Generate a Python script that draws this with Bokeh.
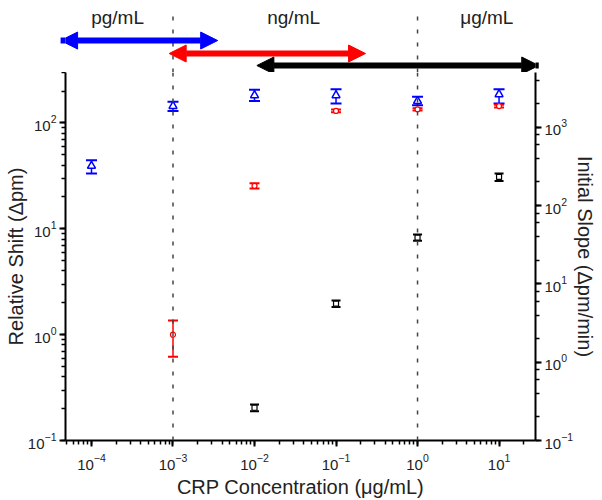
from bokeh.plotting import figure
from bokeh.layouts import column
from bokeh.models import (LogAxis, Range1d, LogScale, Whisker, TeeHead, Span,
                          NormalHead, Arrow, Label, ColumnDataSource, LogTicker)
from bokeh.embed import file_html
from bokeh.resources import INLINE

# ---- data ----
conc_blue = [1e-4, 1e-3, 1e-2, 1e-1, 1e0, 1e1]
shift_blue = [39.3, 144.5, 182.5, 182.5, 161.0, 186.6]
shift_blue_lo = [33.3, 130.0, 161.0, 153.0, 147.0, 153.0]
shift_blue_hi = [44.4, 159.0, 206.0, 208.0, 177.0, 208.0]

conc_red = [1e-3, 1e-2, 1e-1, 1e0, 1e1]
shift_red = [1.0, 25.5, 130.0, 134.6, 144.5]
shift_red_lo = [0.62, 24.0, 126.0, 131.0, 140.0]
shift_red_hi = [1.36, 27.0, 134.0, 138.0, 149.0]

conc_black = [1e-2, 1e-1, 1e0, 1e1]
slope_black = [0.262, 5.58, 38.9, 231.9]
slope_black_lo = [0.237, 5.05, 35.6, 206.0]
slope_black_hi = [0.288, 6.15, 42.6, 256.0]

unit_edges = [1e-3, 1.0]
unit_names = ["pg/mL", "ng/mL", "μg/mL"]
unit_centers = [10**-3.68, 10**-1.52, 10**0.85]

range_colors = ["#0000FF", "#FF0000", "#000000"]
range_lo = [10**-4.379, 10**-3.047, 10**-1.971]
range_hi = [10**-2.452, 10**-0.638, 10**1.487]

x_lo, x_hi = 4.8e-5, 28.0
left_lo, left_hi = 0.1, 300.0
right_lo, right_hi = 0.1, 5000.0

FONT = "Liberation Sans"
W = 602
TOP_H = 72
BOT_H = 500 - TOP_H

# ---------- main chart ----------
p = figure(width=W, height=BOT_H, x_axis_type="log", y_axis_type="log",
           x_range=Range1d(x_lo, x_hi), y_range=Range1d(left_lo, left_hi),
           output_backend="svg", toolbar_location=None,
           min_border_left=65, min_border_right=67, min_border_top=0,
           min_border_bottom=60)
p.extra_y_ranges = {"slope": Range1d(right_lo, right_hi)}
p.extra_y_scales = {"slope": LogScale()}
p.grid.visible = False
p.outline_line_color = None

right = LogAxis(y_range_name="slope", ticker=LogTicker())
p.add_layout(right, "right")

p.xaxis.axis_label = "CRP Concentration (μg/mL)"
p.yaxis[0].axis_label = "Relative Shift (Δpm)"
right.axis_label = "Initial Slope (Δpm/min)"

for ax in [p.xaxis[0], p.yaxis[0], right]:
    ax.axis_line_width = 2
    ax.axis_line_color = "black"
    ax.major_tick_line_width = 2
    ax.minor_tick_line_width = 1.5
    ax.major_tick_out = 6
    ax.major_tick_in = 0
    ax.minor_tick_out = 4
    ax.minor_tick_in = 0
    ax.major_label_text_font = FONT
    ax.major_label_text_font_size = "15px"
    ax.major_label_text_color = "#222222"
    ax.axis_label_text_font = FONT
    ax.axis_label_text_font_size = "20px"
    ax.axis_label_text_font_style = "normal"
    ax.axis_label_text_color = "#222222"

p.xaxis[0].major_label_standoff = 7
p.xaxis[0].axis_label_standoff = 3
p.yaxis[0].major_label_standoff = 3
p.yaxis[0].axis_label_standoff = -2
right.major_label_standoff = 3
right.axis_label_standoff = -2

for xe in unit_edges:
    p.add_layout(Span(location=xe, dimension="height", line_color="#444444",
                      line_width=1.5, line_dash="4 9"))

sb = ColumnDataSource(dict(x=conc_blue, y=shift_blue, lo=shift_blue_lo, hi=shift_blue_hi))
p.add_layout(Whisker(source=sb, base="x", lower="lo", upper="hi", dimension="height",
                     line_color="#0000FF", line_width=1.5,
                     upper_head=TeeHead(size=11, line_color="#0000FF", line_width=2),
                     lower_head=TeeHead(size=11, line_color="#0000FF", line_width=2)))
p.scatter("x", "y", source=sb, marker="triangle", size=8, fill_color="white",
          line_color="#0000FF", line_width=1.5)

sr = ColumnDataSource(dict(x=conc_red, y=shift_red, lo=shift_red_lo, hi=shift_red_hi))
p.add_layout(Whisker(source=sr, base="x", lower="lo", upper="hi", dimension="height",
                     line_color="#FF0000", line_width=1.5,
                     upper_head=TeeHead(size=10, line_color="#FF0000", line_width=2),
                     lower_head=TeeHead(size=10, line_color="#FF0000", line_width=2)))
p.scatter("x", "y", source=sr, marker="circle", size=5, fill_color="white",
          line_color="#FF0000", line_width=1.2)

sk = ColumnDataSource(dict(x=conc_black, y=slope_black, lo=slope_black_lo, hi=slope_black_hi))
p.add_layout(Whisker(source=sk, base="x", lower="lo", upper="hi", dimension="height",
                     y_range_name="slope", line_color="black", line_width=1.5,
                     upper_head=TeeHead(size=9, line_color="black", line_width=2),
                     lower_head=TeeHead(size=9, line_color="black", line_width=2)))
p.scatter("x", "y", source=sk, y_range_name="slope", marker="square", size=5,
          fill_color="white", line_color="black", line_width=1.2)

# ---------- header strip (frames are aligned by the column) ----------
t = figure(width=W, height=TOP_H, x_axis_type="log", x_range=p.x_range,
           y_range=Range1d(0, 1), output_backend="svg", toolbar_location=None,
           min_border_left=0, min_border_right=0, min_border_top=0, min_border_bottom=0)
t.axis.visible = False
t.grid.visible = False
t.outline_line_color = None

t.segment(x0=unit_edges, y0=[0] * len(unit_edges), x1=unit_edges, y1=[0.83] * len(unit_edges),
          line_color="#444444", line_width=1.5, line_dash="4 9")

for name, xc in zip(unit_names, unit_centers):
    t.add_layout(Label(x=xc, y=0.76, text=name, text_align="center", text_baseline="middle",
                       text_font=FONT, text_font_size="19px", text_color="#222222"))

arrow_y = [0.444, 0.264, 0.097]
for c, lo, hi, yy in zip(range_colors, range_lo, range_hi, arrow_y):
    t.add_layout(Arrow(x_start=lo, x_end=hi, y_start=yy, y_end=yy,
                       line_color=c, line_width=6,
                       start=NormalHead(size=17, fill_color=c, line_color=c, line_width=1),
                       end=NormalHead(size=17, fill_color=c, line_color=c, line_width=1)))

layout = column(t, p, spacing=0)
open("out.html", "w").write(file_html(layout, INLINE))
